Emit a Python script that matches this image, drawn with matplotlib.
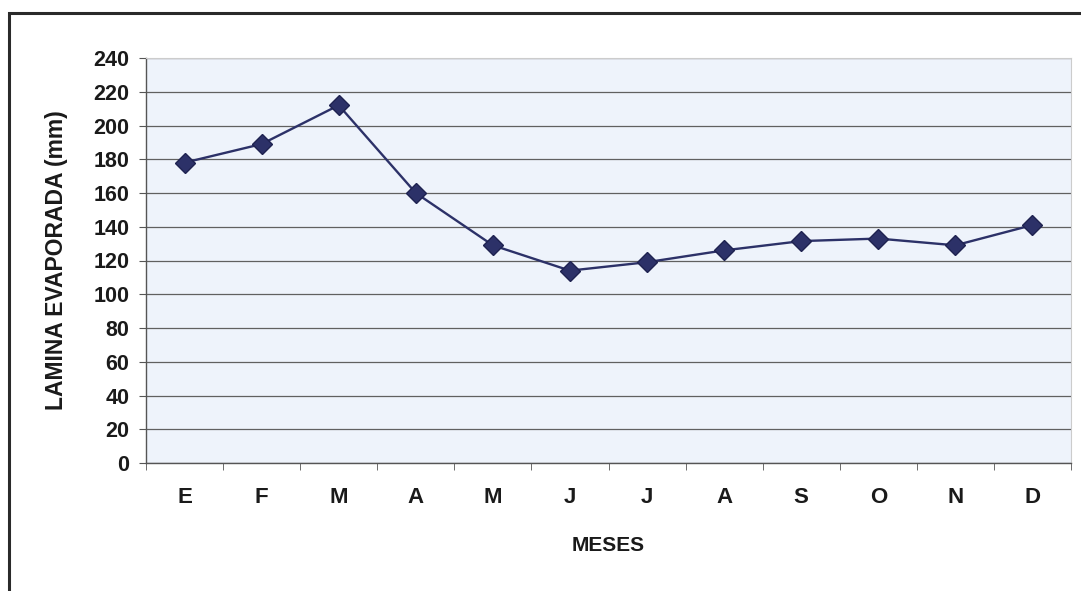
import matplotlib
matplotlib.use('Agg')
import matplotlib.pyplot as plt
from matplotlib.patches import Rectangle

plt.rcParams['font.family'] = ['Liberation Sans', 'DejaVu Sans']

# data
meses = ['E', 'F', 'M', 'A', 'M', 'J', 'J', 'A', 'S', 'O', 'N', 'D']
lamina = [178, 189, 212, 160, 129, 114, 119, 126, 131.5, 133, 129, 141]
y_ticks = list(range(0, 241, 20))

W, H = 1081, 591
fig = plt.figure(figsize=(W / 100, H / 100), dpi=100)
fig.patch.set_facecolor('white')

# outer frame of the scanned chart (cut off on the right and bottom)
fig.patches.append(Rectangle((9 / W, -0.05), 1.1, 1 - 13 / H + 0.05,
                             transform=fig.transFigure, fill=False,
                             edgecolor='#2a2a2a', linewidth=2.2))

left, right, top, bottom = 146, 1071, 58, 463
ax = fig.add_axes([left / W, 1 - bottom / H, (right - left) / W, (bottom - top) / H])
ax.set_facecolor('#eef3fb')

x = list(range(len(meses)))
ax.plot(x, lamina, color='#2c3168', linewidth=1.7, marker='D',
        markersize=10, markerfacecolor='#2c3168', markeredgecolor='#1e2250', zorder=3)

ax.set_xlim(-0.5, len(meses) - 0.5)
ax.set_ylim(0, 240)
ax.set_yticks(y_ticks)
ax.set_xticks(x)
ax.set_xticklabels(meses)
ax.set_xticks([i - 0.5 for i in range(len(meses) + 1)], minor=True)
ax.tick_params(axis='x', which='major', length=0, pad=17, labelsize=16)
ax.tick_params(axis='x', which='minor', length=5, color='#555555')
ax.tick_params(axis='y', length=5, color='#555555', pad=7, labelsize=15.5)
for lab in ax.get_xticklabels() + ax.get_yticklabels():
    lab.set_fontweight('bold')
    lab.set_color('#1a1a1a')

ax.grid(axis='y', color='#606060', linewidth=0.9)
ax.set_axisbelow(True)
for side in ['left', 'bottom']:
    ax.spines[side].set_color('#555555')
    ax.spines[side].set_linewidth(1.0)
for side in ['top', 'right']:
    ax.spines[side].set_color('#cccccc')
    ax.spines[side].set_linewidth(0.8)

ax.set_ylabel('LAMINA EVAPORADA (mm)', fontsize=16.5, fontweight='bold', color='#1a1a1a')
ax.yaxis.set_label_coords(-0.097, 0.5)
ax.yaxis.label.set_verticalalignment('center')
ax.set_xlabel('MESES', fontsize=15, fontweight='bold', color='#1a1a1a')
ax.xaxis.set_label_coords(0.5, -0.2025)
ax.xaxis.label.set_verticalalignment('center')

fig.savefig('out.png', dpi=100)
